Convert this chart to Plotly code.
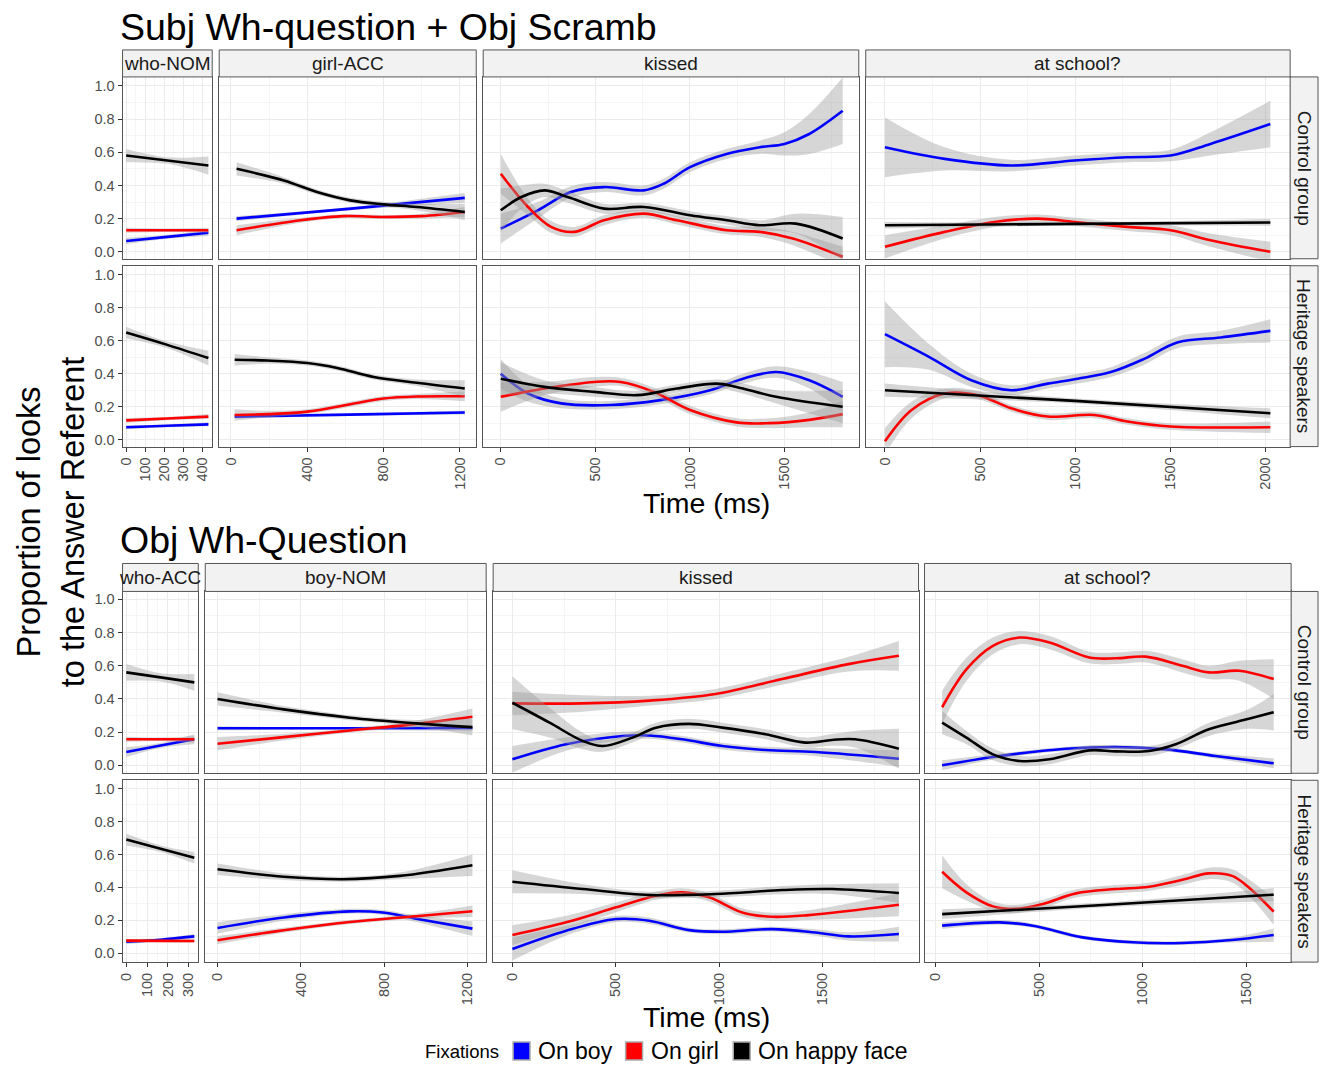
import plotly.graph_objects as go

# ---------------- DATA ----------------
# each series: list of (time in ms, proportion of looks, half-width of grey confidence ribbon)
# Block A: "Subj Wh-question + Obj Scramb"
A_CTL_WHO_BOY = [(0, 0.065, 0.02), (215, 0.09, 0.012), (430, 0.115, 0.02)]
A_CTL_WHO_GIRL = [(0, 0.13, 0.015), (215, 0.13, 0.01), (430, 0.13, 0.015)]
A_CTL_WHO_FACE = [(0, 0.58, 0.04), (215, 0.55, 0.02), (430, 0.52, 0.055)]

A_CTL_OBJ_BOY = [(30, 0.20, 0.015), (630, 0.26, 0.01), (1225, 0.325, 0.03)]
A_CTL_OBJ_GIRL = [(30, 0.13, 0.03), (365, 0.19, 0.015), (590, 0.215, 0.012), (800, 0.21, 0.012),
                  (1000, 0.215, 0.015), (1225, 0.24, 0.03)]
A_CTL_OBJ_FACE = [(30, 0.50, 0.04), (278, 0.43, 0.02), (451, 0.36, 0.015), (625, 0.31, 0.015),
                  (799, 0.286, 0.015), (973, 0.27, 0.02), (1225, 0.24, 0.05)]

A_CTL_VERB_BOY = [(0, 0.14, 0.09), (196, 0.25, 0.05), (371, 0.36, 0.035), (546, 0.39, 0.03), (756, 0.37, 0.03),
                  (861, 0.41, 0.03), (1001, 0.51, 0.03), (1194, 0.59, 0.03), (1369, 0.63, 0.04),
                  (1500, 0.65, 0.07), (1631, 0.71, 0.12), (1808, 0.85, 0.2)]
A_CTL_VERB_GIRL = [(0, 0.47, 0.12), (144, 0.27, 0.05), (266, 0.15, 0.035), (389, 0.12, 0.03), (546, 0.19, 0.03),
                   (756, 0.23, 0.025), (931, 0.19, 0.025), (1194, 0.13, 0.025), (1369, 0.12, 0.03),
                   (1544, 0.08, 0.04), (1808, -0.03, 0.06)]
A_CTL_VERB_FACE = [(0, 0.25, 0.13), (109, 0.33, 0.07), (231, 0.37, 0.04), (354, 0.33, 0.035), (546, 0.26, 0.03),
                   (756, 0.27, 0.025), (1001, 0.22, 0.025), (1194, 0.19, 0.025), (1369, 0.16, 0.03),
                   (1561, 0.17, 0.06), (1808, 0.08, 0.13)]

A_CTL_ADV_BOY = [(0, 0.63, 0.18), (314, 0.56, 0.07), (664, 0.52, 0.035), (996, 0.55, 0.03), (1275, 0.57, 0.03),
                 (1502, 0.58, 0.035), (1712, 0.65, 0.07), (2027, 0.77, 0.14)]
A_CTL_ADV_GIRL = [(0, 0.03, 0.07), (314, 0.12, 0.04), (577, 0.18, 0.03), (804, 0.20, 0.025), (996, 0.18, 0.025),
                  (1275, 0.15, 0.025), (1502, 0.13, 0.03), (1712, 0.07, 0.04), (2027, 0.0, 0.06)]
A_CTL_ADV_FACE = [(0, 0.16, 0.02), (1000, 0.168, 0.01), (2027, 0.177, 0.02)]

A_HER_WHO_BOY = [(0, 0.075, 0.012), (215, 0.084, 0.008), (430, 0.093, 0.012)]
A_HER_WHO_GIRL = [(0, 0.117, 0.015), (215, 0.128, 0.01), (430, 0.14, 0.015)]
A_HER_WHO_FACE = [(0, 0.65, 0.035), (215, 0.575, 0.02), (430, 0.495, 0.045)]

A_HER_OBJ_BOY = [(20, 0.14, 0.012), (620, 0.152, 0.008), (1225, 0.165, 0.012)]
A_HER_OBJ_GIRL = [(20, 0.15, 0.035), (191, 0.155, 0.02), (400, 0.17, 0.015), (626, 0.215, 0.015),
                  (800, 0.25, 0.015), (974, 0.262, 0.015), (1225, 0.263, 0.03)]
A_HER_OBJ_FACE = [(20, 0.485, 0.035), (191, 0.48, 0.02), (400, 0.465, 0.015), (557, 0.435, 0.015),
                  (748, 0.38, 0.015), (974, 0.345, 0.02), (1225, 0.31, 0.05)]

A_HER_VERB_BOY = [(0, 0.40, 0.09), (144, 0.28, 0.05), (319, 0.22, 0.03), (581, 0.21, 0.025), (844, 0.24, 0.025),
                  (1106, 0.30, 0.025), (1281, 0.37, 0.03), (1456, 0.41, 0.035), (1631, 0.36, 0.05),
                  (1808, 0.26, 0.09)]
A_HER_VERB_GIRL = [(0, 0.26, 0.09), (231, 0.31, 0.04), (494, 0.35, 0.03), (634, 0.35, 0.025), (809, 0.29, 0.025),
                   (1001, 0.18, 0.025), (1246, 0.105, 0.025), (1421, 0.10, 0.03), (1631, 0.12, 0.045),
                   (1808, 0.155, 0.08)]
A_HER_VERB_FACE = [(0, 0.37, 0.1), (231, 0.32, 0.04), (494, 0.29, 0.03), (721, 0.27, 0.025), (931, 0.31, 0.025),
                   (1141, 0.34, 0.025), (1246, 0.32, 0.03), (1456, 0.26, 0.04), (1808, 0.20, 0.1)]

A_HER_ADV_BOY = [(0, 0.64, 0.2), (227, 0.505, 0.08), (454, 0.36, 0.04), (664, 0.30, 0.03), (856, 0.34, 0.03),
                 (1013, 0.37, 0.03), (1188, 0.41, 0.03), (1363, 0.49, 0.035), (1537, 0.59, 0.035),
                 (1765, 0.62, 0.04), (2027, 0.66, 0.07)]
A_HER_ADV_GIRL = [(0, -0.01, 0.08), (140, 0.18, 0.05), (314, 0.28, 0.03), (489, 0.27, 0.025), (664, 0.19, 0.02),
                  (856, 0.14, 0.02), (1101, 0.15, 0.02), (1275, 0.11, 0.02), (1502, 0.08, 0.02),
                  (2027, 0.075, 0.035)]
A_HER_ADV_FACE = [(0, 0.30, 0.04), (1000, 0.235, 0.015), (2027, 0.16, 0.03)]

# Block B: "Obj Wh-Question"
B_CTL_WHO_BOY = [(0, 0.08, 0.03), (165, 0.12, 0.015), (327, 0.157, 0.03)]
B_CTL_WHO_GIRL = [(0, 0.157, 0.015), (165, 0.157, 0.01), (327, 0.157, 0.02)]
B_CTL_WHO_FACE = [(0, 0.56, 0.05), (165, 0.53, 0.025), (327, 0.50, 0.05)]

B_CTL_SUBJ_BOY = [(0, 0.223, 0.012), (600, 0.223, 0.008), (1224, 0.225, 0.02)]
B_CTL_SUBJ_GIRL = [(0, 0.13, 0.04), (318, 0.17, 0.02), (636, 0.21, 0.012), (954, 0.25, 0.02), (1224, 0.293, 0.05)]
B_CTL_SUBJ_FACE = [(0, 0.40, 0.04), (318, 0.337, 0.02), (636, 0.287, 0.015), (954, 0.253, 0.02), (1224, 0.23, 0.05)]

B_CTL_VERB_BOY = [(0, 0.036, 0.08), (260, 0.127, 0.04), (533, 0.177, 0.025), (662, 0.18, 0.02), (822, 0.157, 0.02),
                  (1015, 0.116, 0.02), (1224, 0.092, 0.02), (1465, 0.08, 0.025), (1869, 0.04, 0.05)]
B_CTL_VERB_GIRL = [(0, 0.373, 0.07), (340, 0.373, 0.05), (662, 0.39, 0.03), (983, 0.43, 0.03), (1304, 0.52, 0.035),
                   (1625, 0.61, 0.045), (1869, 0.66, 0.09)]
B_CTL_VERB_FACE = [(0, 0.377, 0.16), (180, 0.257, 0.09), (340, 0.147, 0.05), (437, 0.116, 0.035),
                   (581, 0.167, 0.03), (694, 0.227, 0.03), (854, 0.25, 0.03), (1015, 0.227, 0.03),
                   (1224, 0.187, 0.03), (1417, 0.137, 0.03), (1545, 0.153, 0.035), (1657, 0.157, 0.05),
                   (1869, 0.10, 0.12)]

B_CTL_ADV_BOY = [(32, 0.0, 0.03), (309, 0.056, 0.015), (630, 0.10, 0.012), (870, 0.11, 0.012), (1111, 0.096, 0.012),
                 (1351, 0.056, 0.015), (1632, 0.012, 0.03)]
B_CTL_ADV_GIRL = [(32, 0.35, 0.1), (149, 0.578, 0.07), (277, 0.72, 0.05), (406, 0.77, 0.04), (550, 0.74, 0.04),
                  (742, 0.65, 0.035), (870, 0.645, 0.035), (1015, 0.655, 0.035), (1191, 0.60, 0.04),
                  (1319, 0.56, 0.04), (1464, 0.57, 0.06), (1632, 0.52, 0.12)]
B_CTL_ADV_FACE = [(32, 0.257, 0.07), (149, 0.167, 0.04), (277, 0.066, 0.035), (406, 0.026, 0.03),
                  (550, 0.036, 0.03), (742, 0.09, 0.03), (870, 0.084, 0.03), (1031, 0.086, 0.03),
                  (1159, 0.127, 0.03), (1319, 0.217, 0.04), (1512, 0.28, 0.06), (1632, 0.32, 0.11)]

B_HER_WHO_BOY = [(0, 0.07, 0.015), (165, 0.083, 0.01), (327, 0.103, 0.015)]
B_HER_WHO_GIRL = [(0, 0.077, 0.01), (165, 0.076, 0.008), (327, 0.075, 0.01)]
B_HER_WHO_FACE = [(0, 0.69, 0.035), (165, 0.635, 0.02), (327, 0.58, 0.035)]

B_HER_SUBJ_BOY = [(0, 0.154, 0.035), (318, 0.218, 0.02), (636, 0.255, 0.015), (794, 0.248, 0.015),
                  (954, 0.21, 0.02), (1224, 0.15, 0.045)]
B_HER_SUBJ_GIRL = [(0, 0.08, 0.025), (318, 0.14, 0.015), (636, 0.19, 0.012), (954, 0.225, 0.015),
                   (1224, 0.255, 0.035)]
B_HER_SUBJ_FACE = [(0, 0.51, 0.035), (318, 0.465, 0.02), (604, 0.45, 0.015), (874, 0.47, 0.02),
                   (1224, 0.535, 0.065)]

B_HER_VERB_BOY = [(0, 0.026, 0.07), (260, 0.137, 0.03), (501, 0.208, 0.02), (662, 0.198, 0.02), (854, 0.141, 0.015),
                  (1015, 0.131, 0.015), (1256, 0.147, 0.015), (1465, 0.127, 0.02), (1625, 0.103, 0.025),
                  (1869, 0.117, 0.045)]
B_HER_VERB_GIRL = [(0, 0.111, 0.06), (260, 0.188, 0.04), (501, 0.279, 0.03), (694, 0.35, 0.025), (822, 0.37, 0.025),
                   (951, 0.34, 0.025), (1111, 0.248, 0.025), (1256, 0.222, 0.025), (1433, 0.232, 0.03),
                   (1869, 0.295, 0.07)]
B_HER_VERB_FACE = [(0, 0.434, 0.07), (340, 0.39, 0.03), (662, 0.354, 0.02), (983, 0.36, 0.02), (1304, 0.384, 0.025),
                   (1545, 0.39, 0.03), (1869, 0.366, 0.06)]

B_HER_ADV_BOY = [(32, 0.168, 0.02), (309, 0.188, 0.015), (470, 0.168, 0.012), (710, 0.097, 0.012),
                 (951, 0.067, 0.012), (1191, 0.063, 0.012), (1431, 0.081, 0.015), (1632, 0.111, 0.04)]
B_HER_ADV_GIRL = [(32, 0.495, 0.1), (149, 0.37, 0.05), (277, 0.285, 0.03), (390, 0.27, 0.025), (518, 0.30, 0.025),
                  (678, 0.364, 0.025), (870, 0.39, 0.025), (1031, 0.404, 0.025), (1191, 0.446, 0.03),
                  (1319, 0.485, 0.035), (1431, 0.47, 0.04), (1512, 0.40, 0.05), (1632, 0.253, 0.08)]
B_HER_ADV_FACE = [(32, 0.238, 0.03), (830, 0.295, 0.015), (1632, 0.356, 0.04)]

BLOCK_TITLES = ["Subj Wh-question + Obj Scramb", "Obj Wh-Question"]
A_COLUMNS = ["who-NOM", "girl-ACC", "kissed", "at school?"]
B_COLUMNS = ["who-ACC", "boy-NOM", "kissed", "at school?"]
ROW_LABELS = ["Control group", "Heritage speakers"]
SERIES_NAMES = ["On boy", "On girl", "On happy face"]
A_XTICKS = [[0, 100, 200, 300, 400], [0, 400, 800, 1200], [0, 500, 1000, 1500], [0, 500, 1000, 1500, 2000]]
B_XTICKS = [[0, 100, 200, 300], [0, 400, 800, 1200], [0, 500, 1000, 1500], [0, 500, 1000, 1500]]
YTICKS = [0.0, 0.2, 0.4, 0.6, 0.8, 1.0]
X_TITLE = "Time (ms)"
Y_TITLE = ["Proportion of looks", "to the Answer Referent"]
LEGEND_TITLE = "Fixations"

A_DATA = [
    [[A_CTL_WHO_BOY, A_CTL_WHO_GIRL, A_CTL_WHO_FACE], [A_CTL_OBJ_BOY, A_CTL_OBJ_GIRL, A_CTL_OBJ_FACE],
     [A_CTL_VERB_BOY, A_CTL_VERB_GIRL, A_CTL_VERB_FACE], [A_CTL_ADV_BOY, A_CTL_ADV_GIRL, A_CTL_ADV_FACE]],
    [[A_HER_WHO_BOY, A_HER_WHO_GIRL, A_HER_WHO_FACE], [A_HER_OBJ_BOY, A_HER_OBJ_GIRL, A_HER_OBJ_FACE],
     [A_HER_VERB_BOY, A_HER_VERB_GIRL, A_HER_VERB_FACE], [A_HER_ADV_BOY, A_HER_ADV_GIRL, A_HER_ADV_FACE]],
]
B_DATA = [
    [[B_CTL_WHO_BOY, B_CTL_WHO_GIRL, B_CTL_WHO_FACE], [B_CTL_SUBJ_BOY, B_CTL_SUBJ_GIRL, B_CTL_SUBJ_FACE],
     [B_CTL_VERB_BOY, B_CTL_VERB_GIRL, B_CTL_VERB_FACE], [B_CTL_ADV_BOY, B_CTL_ADV_GIRL, B_CTL_ADV_FACE]],
    [[B_HER_WHO_BOY, B_HER_WHO_GIRL, B_HER_WHO_FACE], [B_HER_SUBJ_BOY, B_HER_SUBJ_GIRL, B_HER_SUBJ_FACE],
     [B_HER_VERB_BOY, B_HER_VERB_GIRL, B_HER_VERB_FACE], [B_HER_ADV_BOY, B_HER_ADV_GIRL, B_HER_ADV_FACE]],
]

# ---------------- STYLE / LAYOUT ----------------
W, H = 1325, 1066
FONT = "Liberation Sans, Arial, Helvetica, sans-serif"
COLORS = ["#0000ff", "#ff0000", "#000000"]
RIBBON = "rgba(153,153,153,0.4)"
BORDER = "#555555"
STRIP_FILL = "#f2f2f2"
GRID_MAJOR = "#ebebeb"
GRID_MINOR = "#f5f5f5"
TICK_FONT = dict(family=FONT, size=14.5, color="#4d4d4d")
STRIP_FONT = dict(family=FONT, size=19, color="#1a1a1a")

BLOCKS = [
    dict(title=BLOCK_TITLES[0], title_y=27, cols=A_COLUMNS, ticks=A_XTICKS, data=A_DATA,
         cols_px=[(118, 208), (215, 473), (480, 857), (864, 1290)],
         rows_px=[(77, 259), (266, 447)], strip=(50, 77), rstrip=(1290, 1318),
         xr=[(-19, 450), (-61, 1285), (-93, 1893), (-101, 2131)],
         yr=[(-0.042, 1.054), (-0.042, 1.055)], xtitle_y=503),
    dict(title=BLOCK_TITLES[1], title_y=541, cols=B_COLUMNS, ticks=B_XTICKS, data=B_DATA,
         cols_px=[(118, 194), (201, 483), (490, 917), (923, 1291)],
         rows_px=[(592, 774), (781, 963)], strip=(564, 592), rstrip=(1291, 1318),
         xr=[(-18, 346), (-59, 1290), (-93, 1964), (-53, 1716)],
         yr=[(-0.048, 1.048), (-0.053, 1.05)], xtitle_y=1018),
]


def px(x):
    return x / W


def py(y):
    return 1 - y / H


fig = go.Figure()
layout = dict(width=W, height=H, margin=dict(l=0, r=0, t=0, b=0), paper_bgcolor="white",
              plot_bgcolor="white", showlegend=False, font=dict(family=FONT))
shapes, annotations = [], []

k = 0
for b in BLOCKS:
    for r in range(2):
        for c in range(4):
            k += 1
            xa = "xaxis" if k == 1 else f"xaxis{k}"
            ya = "yaxis" if k == 1 else f"yaxis{k}"
            xref = "x" if k == 1 else f"x{k}"
            yref = "y" if k == 1 else f"y{k}"
            x0, x1 = b["cols_px"][c]
            y0, y1 = b["rows_px"][r]
            ticks = b["ticks"][c]
            minor = [(ticks[i] + ticks[i + 1]) / 2 for i in range(len(ticks) - 1)]
            minor += [ticks[-1] + (ticks[1] - ticks[0]) / 2]
            bottom = r == 1
            layout[xa] = dict(domain=[px(x0), px(x1)], range=list(b["xr"][c]), anchor=yref,
                              tickvals=ticks, ticktext=[str(t) for t in ticks],
                              showticklabels=bottom, ticks="outside" if bottom else "",
                              ticklen=4, tickcolor="#333", tickangle=-90, tickfont=TICK_FONT,
                              showgrid=True, gridcolor=GRID_MAJOR, gridwidth=1,
                              minor=dict(tickvals=minor, showgrid=True, gridcolor=GRID_MINOR, gridwidth=1),
                              zeroline=False, showline=True, mirror=True, linecolor=BORDER, linewidth=1,
                              fixedrange=True)
            left = c == 0
            layout[ya] = dict(domain=[py(y1), py(y0)], range=list(b["yr"][r]), anchor=xref,
                              tickvals=YTICKS, ticktext=[f"{v:.1f}" for v in YTICKS],
                              showticklabels=left, ticks="outside" if left else "",
                              ticklen=4, tickcolor="#333", tickfont=TICK_FONT,
                              showgrid=True, gridcolor=GRID_MAJOR, gridwidth=1,
                              minor=dict(tickvals=[0.1, 0.3, 0.5, 0.7, 0.9], showgrid=True,
                                         gridcolor=GRID_MINOR, gridwidth=1),
                              zeroline=False, showline=True, mirror=True, linecolor=BORDER, linewidth=1,
                              fixedrange=True)
            for s, series in enumerate(b["data"][r][c]):
                t = [p[0] for p in series]
                v = [p[1] for p in series]
                lo = [p[1] - p[2] for p in series]
                hi = [p[1] + p[2] for p in series]
                fig.add_trace(go.Scatter(x=t, y=lo, mode="lines", line=dict(width=0, shape="spline"),
                                         xaxis=xref, yaxis=yref, hoverinfo="skip"))
                fig.add_trace(go.Scatter(x=t, y=hi, mode="lines", line=dict(width=0, shape="spline"),
                                         fill="tonexty", fillcolor=RIBBON,
                                         xaxis=xref, yaxis=yref, hoverinfo="skip"))
                fig.add_trace(go.Scatter(x=t, y=v, mode="lines", name=SERIES_NAMES[s],
                                         line=dict(color=COLORS[s], width=2.6, shape="spline"),
                                         xaxis=xref, yaxis=yref))
    # top strips
    s0, s1 = b["strip"]
    for c in range(4):
        x0, x1 = b["cols_px"][c]
        shapes.append(dict(type="rect", xref="paper", yref="paper", x0=px(x0), x1=px(x1),
                           y0=py(s1), y1=py(s0), fillcolor=STRIP_FILL, line=dict(color=BORDER, width=1)))
        annotations.append(dict(text=b["cols"][c], xref="paper", yref="paper", x=px((x0 + x1) / 2),
                                y=py((s0 + s1) / 2), showarrow=False, xanchor="center", yanchor="middle",
                                font=STRIP_FONT))
    # right strips
    rx0, rx1 = b["rstrip"]
    for r in range(2):
        y0, y1 = b["rows_px"][r]
        shapes.append(dict(type="rect", xref="paper", yref="paper", x0=px(rx0), x1=px(rx1),
                           y0=py(y1), y1=py(y0), fillcolor=STRIP_FILL, line=dict(color=BORDER, width=1)))
        annotations.append(dict(text=ROW_LABELS[r], xref="paper", yref="paper", x=px((rx0 + rx1) / 2),
                                y=py((y0 + y1) / 2), showarrow=False, textangle=90,
                                xanchor="center", yanchor="middle", font=STRIP_FONT))
    # block title
    annotations.append(dict(text=b["title"], xref="paper", yref="paper", x=px(113), y=py(b["title_y"]),
                            showarrow=False, xanchor="left", yanchor="middle",
                            font=dict(family=FONT, size=37.5, color="black")))
    # x title
    cx = (b["cols_px"][0][0] + b["cols_px"][3][1]) / 2
    annotations.append(dict(text=X_TITLE, xref="paper", yref="paper", x=px(cx), y=py(b["xtitle_y"]),
                            showarrow=False, xanchor="center", yanchor="middle",
                            font=dict(family=FONT, size=28.5, color="black")))

# y title (two lines)
for line_text, xc in zip(Y_TITLE, [24, 68]):
    annotations.append(dict(text=line_text, xref="paper", yref="paper", x=px(xc), y=py(522),
                            showarrow=False, textangle=-90, xanchor="center", yanchor="middle",
                            font=dict(family=FONT, size=32.5, color="black")))

# legend
LY = 1052
annotations.append(dict(text=LEGEND_TITLE, xref="paper", yref="paper", x=px(420), y=py(LY), showarrow=False,
                        xanchor="left", yanchor="middle", font=dict(family=FONT, size=18.5, color="black")))
for s, (sx, lx) in enumerate(zip([510, 623, 731], [533, 646, 754])):
    shapes.append(dict(type="rect", xref="paper", yref="paper", x0=px(sx), x1=px(sx + 17),
                       y0=py(LY + 9), y1=py(LY - 9), fillcolor=COLORS[s], line=dict(color="#aaaaaa", width=1.5)))
    annotations.append(dict(text=SERIES_NAMES[s], xref="paper", yref="paper", x=px(lx), y=py(LY),
                            showarrow=False, xanchor="left", yanchor="middle",
                            font=dict(family=FONT, size=23, color="black")))

layout["shapes"] = shapes
layout["annotations"] = annotations
fig.update_layout(**layout)
fig.write_html("out.html", config={"displayModeBar": False},
               post_script="document.body.style.margin='0';document.body.style.overflow='hidden';")
